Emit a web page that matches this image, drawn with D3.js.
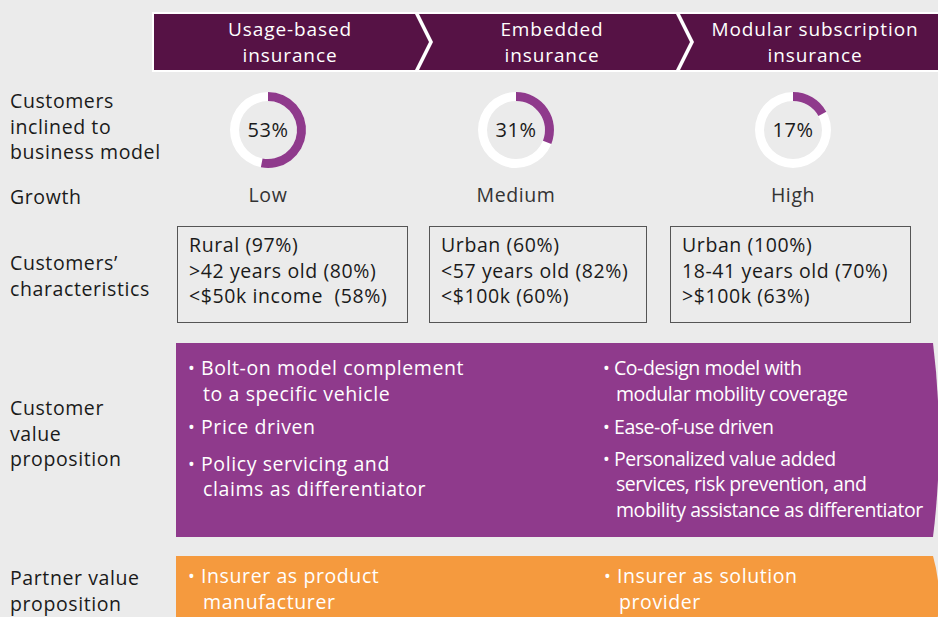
<!DOCTYPE html>
<html>
<head>
<script src="https://d3js.org/d3.v7.min.js"></script>
<style>
body { margin: 0; background: #ebebeb; }
svg { display: block; }
text { white-space: pre; }
</style>
</head>
<body>
<div id="chart"></div>
<script>
/* Data */
var models = [["Usage-based", "insurance"], ["Embedded", "insurance"], ["Modular subscription", "insurance"]];
var inclinedPct = [53, 31, 17];
var growth = ["Low", "Medium", "High"];
var characteristics = [
    ["Rural (97%)", ">42 years old (80%)", "<$50k income  (58%)"],
    ["Urban (60%)", "<57 years old (82%)", "<$100k (60%)"],
    ["Urban (100%)", "18-41 years old (70%)", ">$100k (63%)"]
];
var rowLabels = [
    ["Customers", "inclined to", "business model"],
    ["Growth"],
    ["Customers\u2019", "characteristics"],
    ["Customer", "value", "proposition"],
    ["Partner value", "proposition"]
];
var customerValueLeft = [["Bolt-on model complement", "to a specific vehicle"], ["Price driven"], ["Policy servicing and", "claims as differentiator"]];
var customerValueRight = [["Co-design model with", "modular mobility coverage"], ["Ease-of-use driven"], ["Personalized value added", "services, risk prevention, and", "mobility assistance as differentiator"]];
var partnerValueLeft = [["Insurer as product", "manufacturer"]];
var partnerValueRight = [["Insurer as solution", "provider"]];

var W = 938, H = 617;
var font = "'Open Sans', 'Noto Sans', sans-serif";
var darkPurple = "#561245", purple = "#8f3a8c", orange = "#f59a3e";
var fs = "19.5px", ls = "0.6px";

var svg = d3.select("#chart").append("svg")
    .attr("width", W)
    .attr("height", H);

svg.append("rect").attr("width", W).attr("height", H).attr("fill", "#ebebeb");

/* Header chevrons */
var headerTop = 12, headerBottom = 72, headerMid = 42;
var segStart = [152, 416, 677];
var segEnd = [416, 677, 938];
var tip = 14;
svg.append("rect")
    .attr("x", segStart[0]).attr("y", headerTop)
    .attr("width", W - segStart[0]).attr("height", headerBottom - headerTop)
    .attr("fill", "white");
segStart.forEach(function(s, i) {
    var x0 = s + (i ? 3 : 2), x1 = segEnd[i];
    var pts = [[x0, headerTop + 2], [x1 - 1, headerTop + 2], [x1 + tip - 1, headerMid], [x1 - 1, headerBottom - 2], [x0, headerBottom - 2]];
    if (i) pts.push([x0 + tip, headerMid]);
    if (i == 2) pts = [[x0, headerTop + 2], [W, headerTop + 2], [W, headerBottom - 2], [x0, headerBottom - 2], [x0 + tip, headerMid]];
    svg.append("path")
        .attr("d", d3.line()(pts) + "Z")
        .attr("fill", darkPurple);
});
var headerCx = [290, 552, 815];
models.forEach(function(m, i) {
    m.forEach(function(line, j) {
        svg.append("text")
            .attr("x", headerCx[i])
            .attr("y", 35.5 + j * 26)
            .attr("text-anchor", "middle")
            .attr("font-family", font)
            .attr("font-size", "19px")
            .attr("letter-spacing", "0.9px")
            .attr("fill", "white")
            .text(line);
    });
});

/* Row labels */
var rowLabelY = [108, 204, 270, 415, 585];
rowLabels.forEach(function(lines, i) {
    lines.forEach(function(line, j) {
        svg.append("text")
            .attr("x", 10)
            .attr("y", rowLabelY[i] + j * 25.5)
            .attr("font-family", font)
            .attr("font-size", fs)
            .attr("letter-spacing", ls)
            .attr("fill", "#1a1a1a")
            .text(line);
    });
});

/* Donuts */
var donutCx = [268, 516, 793], donutCy = 130;
var angle = d3.scaleLinear().domain([0, 100]).range([0, 2 * Math.PI]);
var arc = d3.arc().innerRadius(29).outerRadius(38);
inclinedPct.forEach(function(p, i) {
    var g = svg.append("g").attr("transform", "translate(" + donutCx[i] + "," + donutCy + ")");
    g.append("path")
        .attr("d", arc({startAngle: 0, endAngle: angle(100)}))
        .attr("fill", "white");
    g.append("path")
        .attr("d", arc({startAngle: 0, endAngle: angle(p)}))
        .attr("fill", purple);
    g.append("text")
        .attr("y", 7)
        .attr("text-anchor", "middle")
        .attr("font-family", font)
        .attr("font-size", "20px")
        .attr("letter-spacing", ls)
        .attr("fill", "#1a1a1a")
        .text(p + "%");
    svg.append("text")
        .attr("x", donutCx[i])
        .attr("y", 202)
        .attr("text-anchor", "middle")
        .attr("font-family", font)
        .attr("font-size", fs)
        .attr("letter-spacing", ls)
        .attr("fill", "#333")
        .text(growth[i]);
});

/* Characteristic boxes */
var boxX = [177, 429, 670], boxW = [230, 217, 240];
characteristics.forEach(function(lines, i) {
    svg.append("rect")
        .attr("x", boxX[i] + 0.5).attr("y", 226.5)
        .attr("width", boxW[i]).attr("height", 96)
        .attr("fill", "none")
        .attr("stroke", "#555")
        .attr("stroke-width", 1);
    lines.forEach(function(line, j) {
        svg.append("text")
            .attr("x", boxX[i] + 12)
            .attr("y", 252 + j * 25.5)
            .attr("font-family", font)
            .attr("font-size", fs)
            .attr("letter-spacing", ls)
            .attr("fill", "#1a1a1a")
            .text(line);
    });
});

/* Value proposition panels */
function panel(y0, y1, color) {
    var p = d3.path();
    p.moveTo(176, y0);
    p.lineTo(933, y0);
    p.quadraticCurveTo(945, (y0 + y1) / 2, 933, y1);
    p.lineTo(176, y1);
    p.closePath();
    svg.append("path").attr("d", p.toString()).attr("fill", color);
}
panel(343, 537, purple);
panel(556, 640, orange);

function bullets(items, x, yStart, gaps, condensed) {
    var y = yStart;
    items.forEach(function(lines, i) {
        svg.append("text")
            .attr("x", x)
            .attr("y", y)
            .attr("font-family", font)
            .attr("font-size", "18px")
            .attr("fill", "white")
            .text("\u2022");
        lines.forEach(function(line, j) {
            svg.append("text")
                .attr("x", x + (condensed ? 11 : 13) + (j ? 2 : 0))
                .attr("y", y + j * 25.5)
                .attr("font-family", font)
                .attr("font-size", fs)
                .attr("letter-spacing", condensed ? "-0.45px" : ls)
                .attr("fill", "white")
                .text(line);
        });
        y += (lines.length - 1) * 25.5 + gaps[i];
    });
}
bullets(customerValueLeft, 188, 375, [33, 37, 0], false);
bullets(customerValueRight, 603, 375, [33, 32, 0], true);
bullets(partnerValueLeft, 188, 583, [0], false);
bullets(partnerValueRight, 604, 583, [0], false);
</script>
</body>
</html>
